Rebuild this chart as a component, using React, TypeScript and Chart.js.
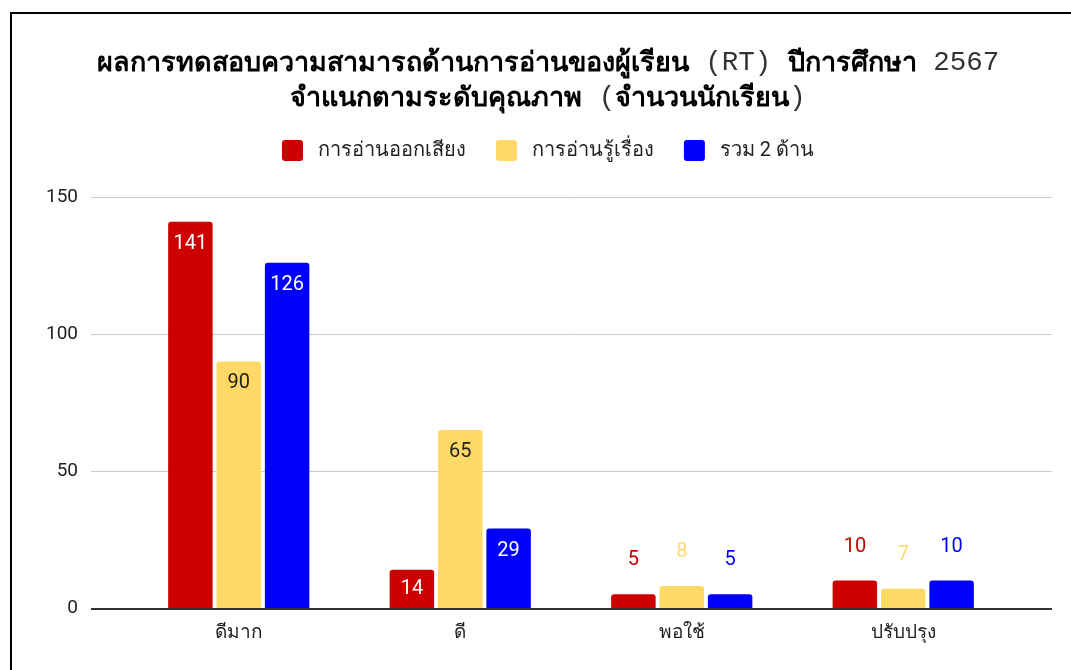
import React, { useEffect, useRef } from 'react';
import { Chart, registerables } from 'chart.js';

Chart.register(...registerables);

const CATEGORIES = ['ดีมาก', 'ดี', 'พอใช้', 'ปรับปรุง'];
const SERIES_NAMES = ['การอ่านออกเสียง', 'การอ่านรู้เรื่อง', 'รวม 2 ด้าน'];
const READ_ALOUD = [141, 14, 5, 10];
const READ_COMPREHENSION = [90, 65, 8, 7];
const TOTAL_TWO = [126, 29, 5, 10];
const Y_TICKS = [0, 50, 100, 150];
const TITLE_LINE_1: [string, string][] = [
  ['ผลการทดสอบความสามารถด้านการอ่านของผู้เรียน', 'thai'],
  [' (RT) ', 'mono'],
  ['ปีการศึกษา', 'thai'],
  [' 2567', 'mono'],
];
const TITLE_LINE_2: [string, string][] = [
  ['จำแนกตามระดับคุณภาพ', 'thai'],
  [' (', 'mono'],
  ['จำนวนนักเรียน', 'thai'],
  [')', 'mono'],
];

const COLORS = ['#cc0000', '#ffd966', '#0000ff'];
const INSIDE_TEXT = ['#ffffff', '#222222', '#ffffff'];

const TITLE_FONTS: Record<string, string> = {
  thai: "bold 27px 'Noto Sans', sans-serif",
  mono: "normal 27.5px 'Liberation Mono', monospace",
};
const TITLE_COLORS: Record<string, string> = { thai: '#000000', mono: '#333333' };

const mixedTitlePlugin = {
  id: 'mixedTitle',
  afterDraw(chart: any) {
    const ctx = chart.ctx;
    const cx = chart.width / 2;
    ctx.save();
    ctx.textBaseline = 'middle';
    ctx.textAlign = 'left';
    [TITLE_LINE_1, TITLE_LINE_2].forEach((line, i) => {
      const y = 49 + i * 35;
      let total = 0;
      const widths = line.map(([t, k]) => {
        ctx.font = TITLE_FONTS[k];
        const w = ctx.measureText(t).width;
        total += w;
        return w;
      });
      let x = cx - total / 2;
      line.forEach(([t, k], j) => {
        ctx.font = TITLE_FONTS[k];
        ctx.fillStyle = TITLE_COLORS[k];
        ctx.fillText(t, x, y);
        x += widths[j];
      });
    });
    ctx.restore();
  },
};

const gridPlugin = {
  id: 'extGrid',
  beforeDatasetsDraw(chart: any) {
    const { ctx, chartArea, scales } = chart;
    const y = scales.y;
    ctx.save();
    Y_TICKS.forEach((v) => {
      if (v === 0) return;
      const py = Math.round(y.getPixelForValue(v)) + 0.5;
      ctx.strokeStyle = '#cccccc';
      ctx.lineWidth = 1;
      ctx.beginPath();
      ctx.moveTo(chartArea.left - 37, py);
      ctx.lineTo(chartArea.right + 38, py);
      ctx.stroke();
    });
    ctx.restore();
  },
  afterDatasetsDraw(chart: any) {
    const { ctx, chartArea, scales } = chart;
    const py = Math.round(scales.y.getPixelForValue(0)) + 1;
    ctx.save();
    ctx.strokeStyle = '#333333';
    ctx.lineWidth = 2;
    ctx.beginPath();
    ctx.moveTo(chartArea.left - 37, py);
    ctx.lineTo(chartArea.right + 38, py);
    ctx.stroke();
    ctx.restore();
  },
};

const dataLabelPlugin = {
  id: 'barLabels',
  afterDatasetsDraw(chart: any) {
    const ctx = chart.ctx;
    ctx.save();
    ctx.font = "20px Roboto, 'Noto Sans', sans-serif";
    ctx.textAlign = 'center';
    ctx.textBaseline = 'middle';
    chart.data.datasets.forEach((ds: any, di: number) => {
      const meta = chart.getDatasetMeta(di);
      meta.data.forEach((bar: any, i: number) => {
        const { x, y, base } = bar.getProps(['x', 'y', 'base'], true);
        const h = base - y;
        const val = ds.data[i];
        if (h >= 30) {
          ctx.fillStyle = INSIDE_TEXT[di];
          ctx.fillText(String(val), x, y + Math.min(22, h / 2));
        } else {
          ctx.fillStyle = COLORS[di];
          ctx.fillText(String(val), x, y - 34);
        }
      });
    });
    ctx.restore();
  },
};

export default function App() {
  const canvasRef = useRef<HTMLCanvasElement | null>(null);

  useEffect(() => {
    if (!canvasRef.current) return;
    Chart.defaults.font.family = "Roboto, 'Noto Sans', sans-serif";
    Chart.defaults.color = '#222222';
    const seriesData = [READ_ALOUD, READ_COMPREHENSION, TOTAL_TWO];
    const defaultLabels = (Chart.defaults.plugins.legend.labels as any).generateLabels;
    const chart = new Chart(canvasRef.current, {
      type: 'bar',
      data: {
        labels: CATEGORIES,
        datasets: SERIES_NAMES.map((name, i) => ({
          label: name,
          data: seriesData[i],
          backgroundColor: COLORS[i],
          borderWidth: 0,
          borderRadius: 3,
          borderSkipped: 'start',
          categoryPercentage: 0.655,
          barPercentage: 0.92,
        })),
      },
      options: {
        responsive: false,
        animation: false,
        devicePixelRatio: 1,
        layout: { padding: { top: 96, bottom: 46, left: 0, right: 0 } },
        plugins: {
          tooltip: { enabled: false },
          title: { display: false },
          subtitle: {
            display: true,
            text: '',
            weight: 500,
            font: { size: 10, lineHeight: 1 },
            padding: { top: 8, bottom: 8 },
          },
          legend: {
            display: true,
            position: 'top',
            labels: {
              boxWidth: 21,
              boxHeight: 21,
              padding: 30,
              useBorderRadius: true,
              borderRadius: 3,
              color: '#222222',
              font: { size: 20 },
              generateLabels: (c: any) =>
                defaultLabels(c).map((l: any) => ({ ...l, text: ' ' + l.text })),
            },
          },
        },
        scales: {
          x: {
            type: 'category',
            grid: { display: false, drawTicks: false },
            border: { display: false },
            ticks: { font: { size: 19 }, color: '#222222', padding: 14 },
            afterFit: (s: any) => {
              s.height = 60;
            },
          },
          y: {
            min: 0,
            max: 150,
            ticks: { stepSize: 50, font: { size: 19 }, color: '#222222', padding: 50 },
            grid: { display: false, drawTicks: false },
            border: { display: false },
            afterFit: (s: any) => {
              s.width = 116;
            },
          },
          yRight: {
            type: 'linear',
            position: 'right',
            display: true,
            grid: { display: false, drawTicks: false },
            border: { display: false },
            ticks: { display: false },
            afterFit: (s: any) => {
              s.width = 70;
            },
          },
        },
      },
      plugins: [gridPlugin, dataLabelPlugin, mixedTitlePlugin],
    } as any);
    return () => chart.destroy();
  }, []);

  return (
    <div style={{ position: 'fixed', left: 0, top: 0, width: 1071, height: 670, overflow: 'hidden', background: '#ffffff' }}>
      <div
        style={{
          position: 'absolute',
          left: 10,
          top: 12,
          width: 1072,
          height: 700,
          border: '2px solid #000000',
          background: '#ffffff',
        }}
      >
        <canvas ref={canvasRef} width={1072} height={700} style={{ display: 'block', width: 1072, height: 700 }} />
      </div>
    </div>
  );
}
